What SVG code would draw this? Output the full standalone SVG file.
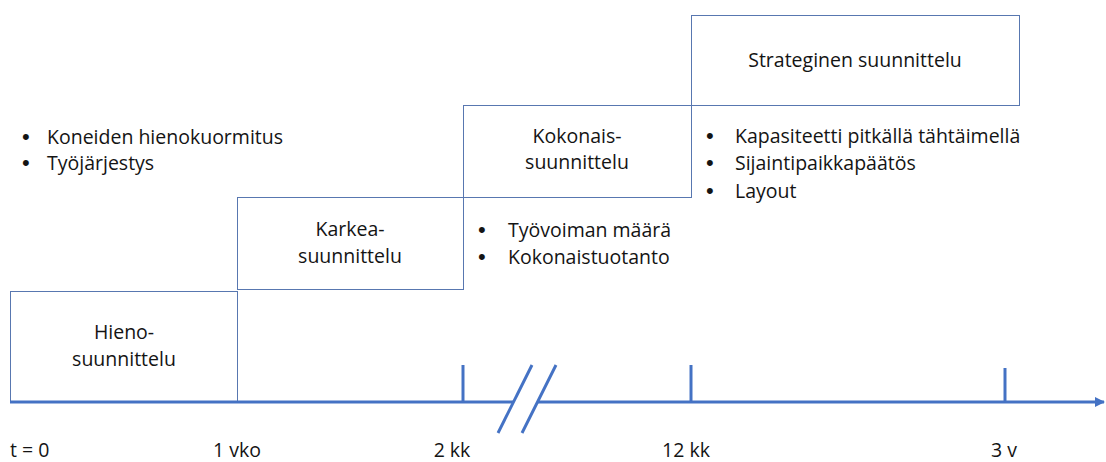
<svg xmlns="http://www.w3.org/2000/svg" width="1106" height="462" viewBox="0 0 1106 462">
  <style>
    .box { fill: #ffffff; stroke: #5877b0; stroke-width: 1; }
    .lbl { font-family: "Open Sans", "Liberation Sans", sans-serif; font-size: 19.5px; fill: #141414; }
    .dot { font-family: "Liberation Sans", sans-serif; font-size: 22px; fill: #141414; }
    .mid { text-anchor: middle; }
    .axis { stroke: #4472c4; stroke-width: 3; fill: none; }
  </style>
  <defs>
    <marker id="arrow" markerWidth="10" markerHeight="10" refX="9" refY="5" orient="auto" markerUnits="userSpaceOnUse">
      <path d="M0,0 L10,5 L0,10 Z" fill="#4472c4"/>
    </marker>
  </defs>

  <rect width="1106" height="462" fill="#ffffff"/>

  <!-- planning levels, stepping up with the time horizon -->
  <g id="strateginen">
    <rect class="box" x="691.5" y="15.5" width="328" height="90"/>
    <text class="lbl mid" x="855" y="67">Strateginen suunnittelu</text>
  </g>
  <g id="kokonais">
    <rect class="box" x="463.5" y="105.5" width="228" height="92"/>
    <text class="lbl mid" x="577" y="143">Kokonais-</text>
    <text class="lbl mid" x="577" y="169">suunnittelu</text>
  </g>
  <g id="karkea">
    <rect class="box" x="237.5" y="197.5" width="226" height="92"/>
    <text class="lbl mid" x="350" y="236">Karkea-</text>
    <text class="lbl mid" x="350" y="263">suunnittelu</text>
  </g>
  <g id="hieno">
    <rect class="box" x="10.5" y="291.5" width="227" height="110"/>
    <text class="lbl mid" x="124" y="339">Hieno-</text>
    <text class="lbl mid" x="124" y="366">suunnittelu</text>
  </g>

  <!-- task lists for each level -->
  <g id="tehtavat-hieno" class="lbl">
    <text class="dot" x="22" y="144">•</text><text x="47" y="144">Koneiden hienokuormitus</text>
    <text class="dot" x="22" y="170">•</text><text x="47" y="170">Työjärjestys</text>
  </g>
  <g id="tehtavat-kokonais" class="lbl">
    <text class="dot" x="478" y="237">•</text><text x="508" y="237">Työvoiman määrä</text>
    <text class="dot" x="478" y="264">•</text><text x="508" y="264">Kokonaistuotanto</text>
  </g>
  <g id="tehtavat-strateginen" class="lbl">
    <text class="dot" x="706" y="143">•</text><text x="735" y="143">Kapasiteetti pitkällä tähtäimellä</text>
    <text class="dot" x="706" y="170">•</text><text x="735" y="170">Sijaintipaikkapäätös</text>
    <text class="dot" x="706" y="198">•</text><text x="735" y="198">Layout</text>
  </g>

  <!-- time axis with break -->
  <g id="connectors">
    <line class="axis" x1="10" y1="402" x2="513" y2="402"/>
    <line class="axis" x1="538" y1="402" x2="1104" y2="402" marker-end="url(#arrow)"/>
    <line class="axis" x1="532" y1="365" x2="498" y2="433"/>
    <line class="axis" x1="556" y1="365" x2="522" y2="433"/>
    <line class="axis" x1="463" y1="365" x2="463" y2="402"/>
    <line class="axis" x1="691" y1="365" x2="691" y2="402"/>
    <line class="axis" x1="1005" y1="368" x2="1005" y2="402"/>
  </g>

  <g id="aika" class="lbl">
    <text x="10" y="457">t = 0</text>
    <text class="mid" x="237" y="457">1 vko</text>
    <text class="mid" x="452" y="457">2 kk</text>
    <text class="mid" x="686" y="457">12 kk</text>
    <text class="mid" x="1004" y="457">3 v</text>
  </g>
</svg>
